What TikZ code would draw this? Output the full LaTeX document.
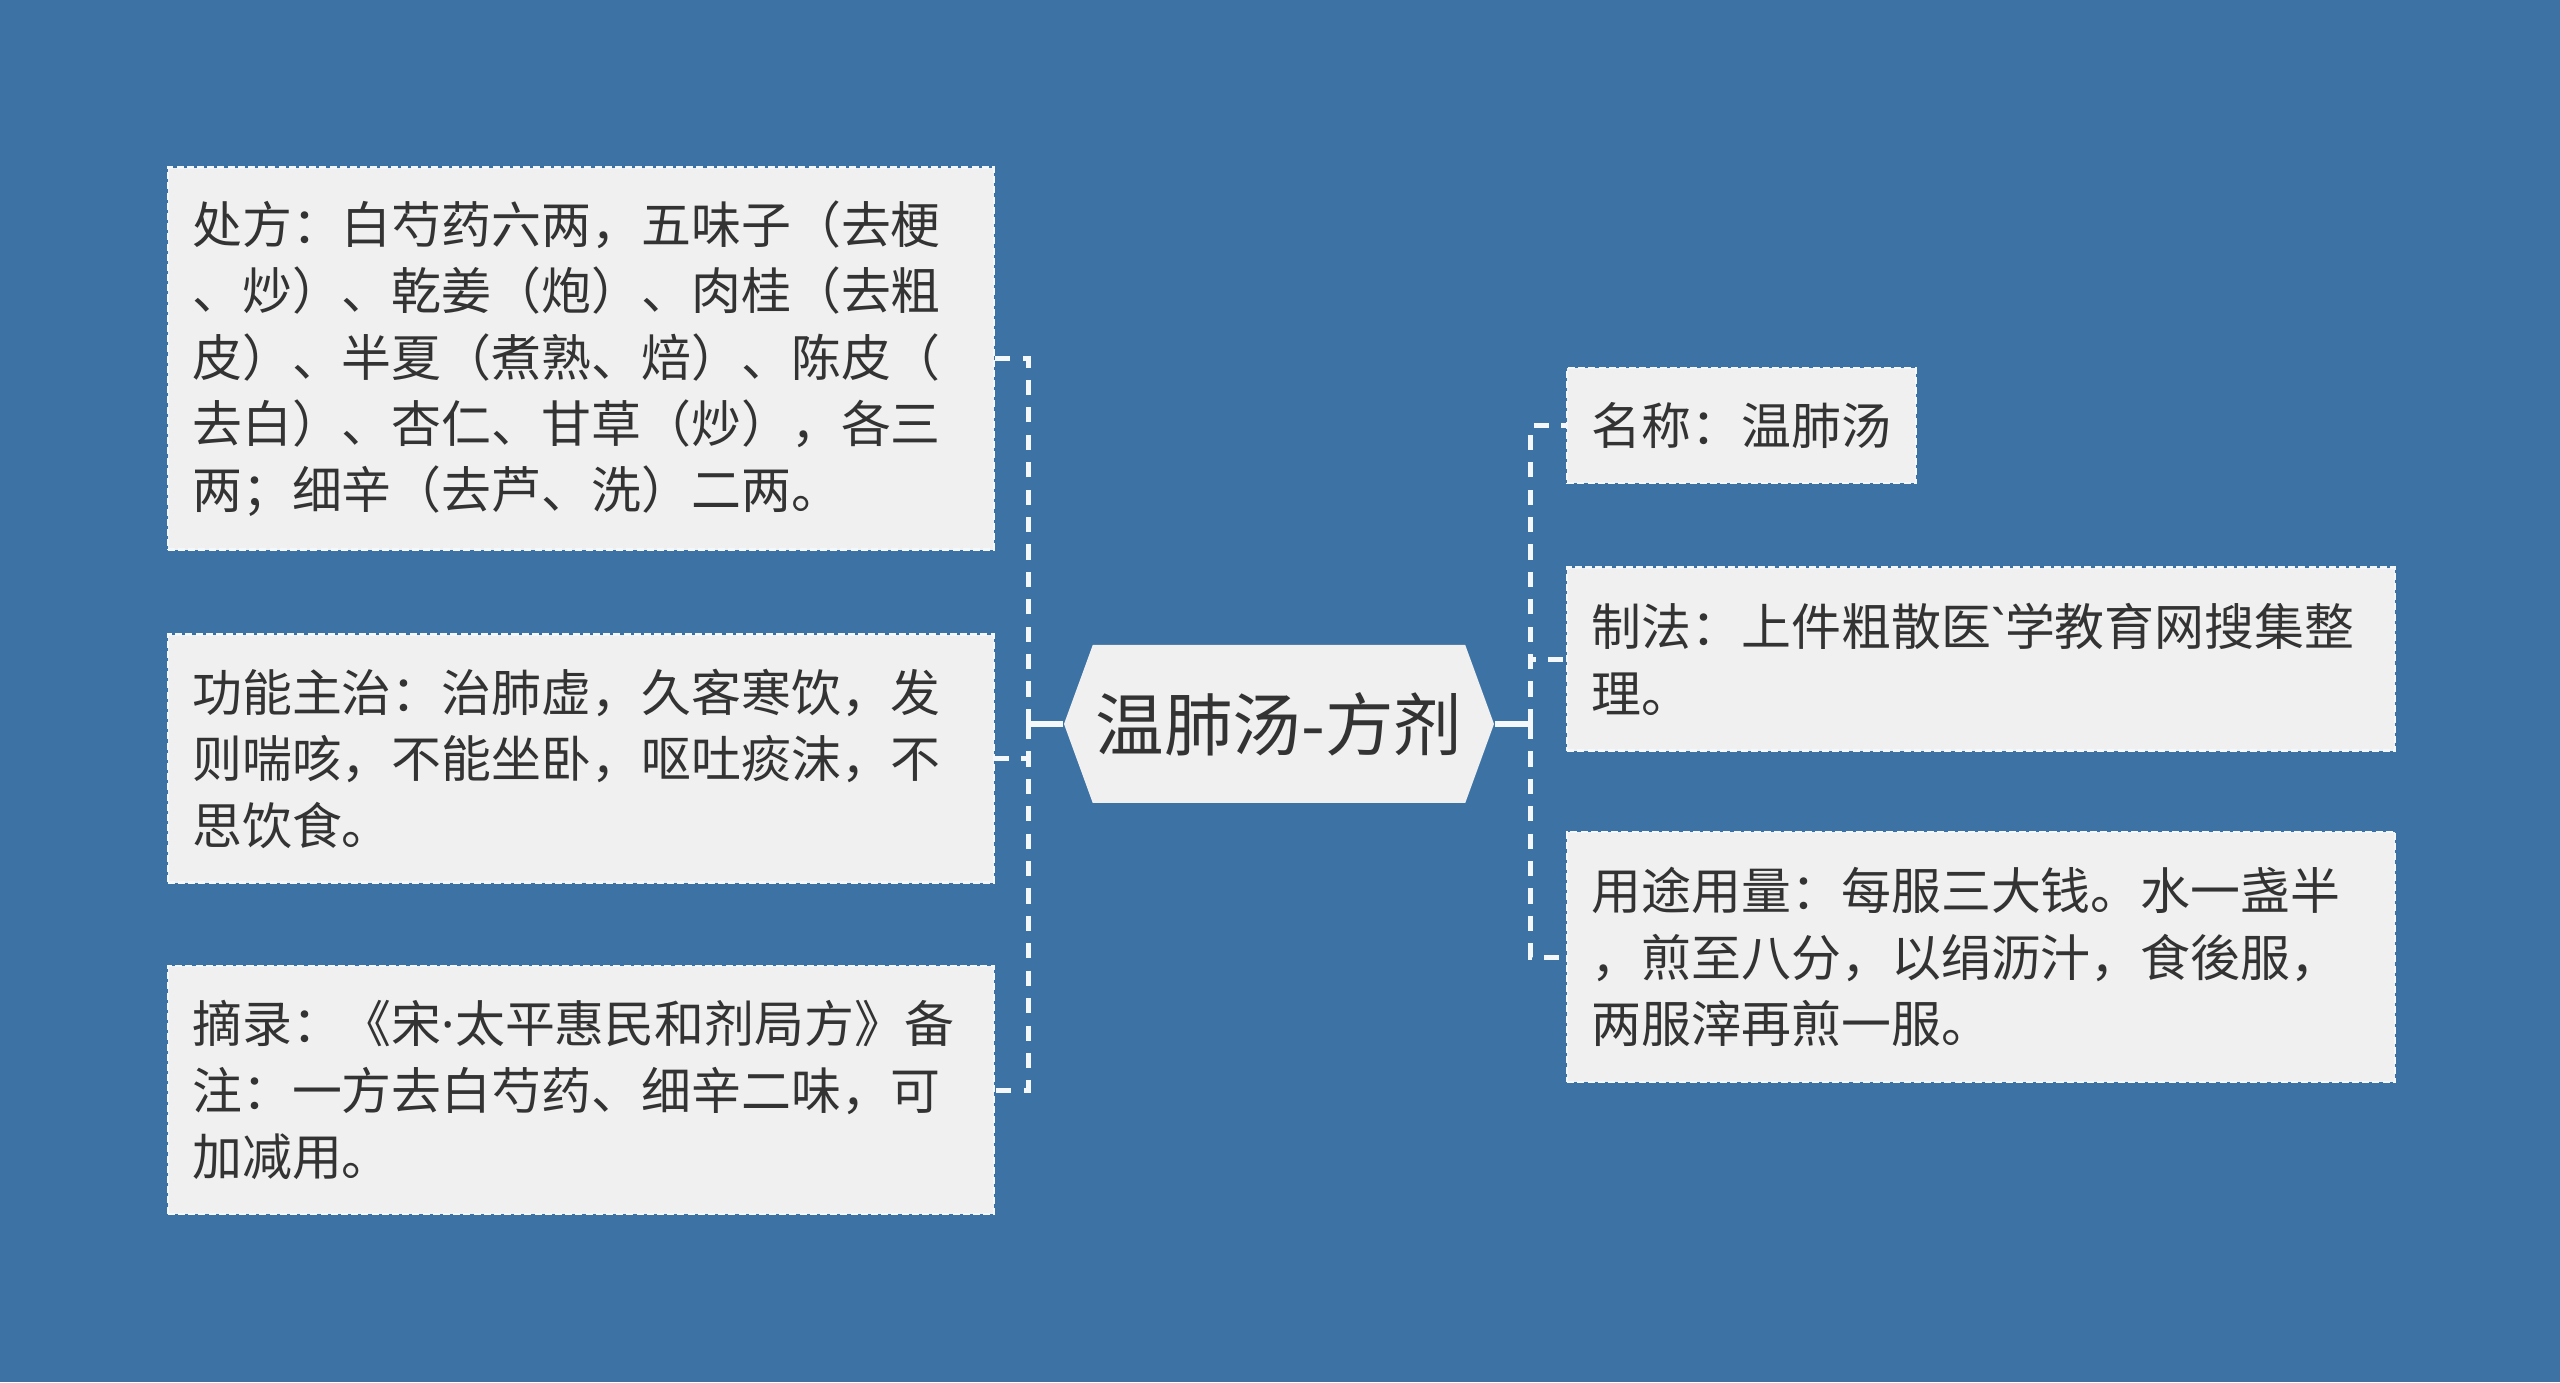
\documentclass[tikz,border=0pt]{standalone}
\usepackage{fontspec}
\setmainfont{Noto Sans CJK SC}
\newfontfamily\latinfont{Noto Sans}
\usepackage{tikz}
\usetikzlibrary{positioning,calc,shapes.symbols}
\definecolor{bg}{HTML}{3D72A4}
\definecolor{card}{HTML}{F0F0F0}
\definecolor{ink}{HTML}{333333}

\begin{document}
\begin{tikzpicture}[
  leaf/.style n args={2}{rectangle, fill=card, draw=white!95!bg, dash pattern=on 2pt off 0.9pt, line width=0.7pt,
    text=ink, align=left, anchor=north west, inner xsep=0.245cm, text width=#1, minimum height=#2,
    font=\fontsize{14.2pt}{18.9pt}\selectfont},
  hub/.style={signal, signal to=west and east, signal pointer angle=140, fill=card, text=ink,
    minimum width=4.3cm, minimum height=1.58cm, inner sep=0pt, font=\fontsize{19.5pt}{24pt}\selectfont},
  link/.style={draw=white!95!bg, line width=1.5pt, dash pattern=on 4.3pt off 3.5pt}]
\fill[bg] (0,0) rectangle (25.6,13.82);
% centre
\node[hub] (hub) at (12.79,6.58) {温肺汤-方剂};
% left side
\node[leaf={7.77cm}{3.82cm}] (fang) at (1.665,12.155) {处方：白芍药六两，五味子（去梗\\、炒）、乾姜（炮）、肉桂（去粗\\皮）、半夏（煮熟、焙）、陈皮（\\去白）、杏仁、甘草（炒），各三\\两；细辛（去芦、洗）二两。};
\node[leaf={7.77cm}{2.48cm}] (gong) at (1.665,7.485) {功能主治：治肺虚，久客寒饮，发\\则喘咳，不能坐卧，呕吐痰沫，不\\思饮食。};
\node[leaf={7.77cm}{2.48cm}] (zhai) at (1.665,4.17) {摘录：《宋{\latinfont ·}太平惠民和剂局方》备\\注：一方去白芍药、细辛二味，可\\加减用。};
% right side
\node[leaf={3.0cm}{1.15cm}] (ming) at (15.66,10.15) {名称：温肺汤};
\node[leaf={7.79cm}{1.83cm}] (zhi) at (15.66,8.155) {制法：上件粗散医{\latinfont\symbol{96}}学教育网搜集整\\理。};
\node[leaf={7.79cm}{2.5cm}] (yong) at (15.66,5.51) {用途用量：每服三大钱。水一盏半\\，煎至八分，以绢沥汁，食後服，\\两服滓再煎一服。};
% links
\coordinate (jl) at ($(hub.west)+(-0.345,0)$);
\coordinate (jr) at ($(hub.east)+(0.36,0)$);
\draw[white!95!bg, line width=1.5pt] (hub.west) -- (jl);
\draw[white!95!bg, line width=1.5pt] (hub.east) -- (jr);
\foreach \n in {fang,gong,zhai} \draw[link] (jl) |- (\n.east);
\foreach \n in {ming,zhi,yong} \draw[link] (jr) |- (\n.west);
\end{tikzpicture}
\end{document}
